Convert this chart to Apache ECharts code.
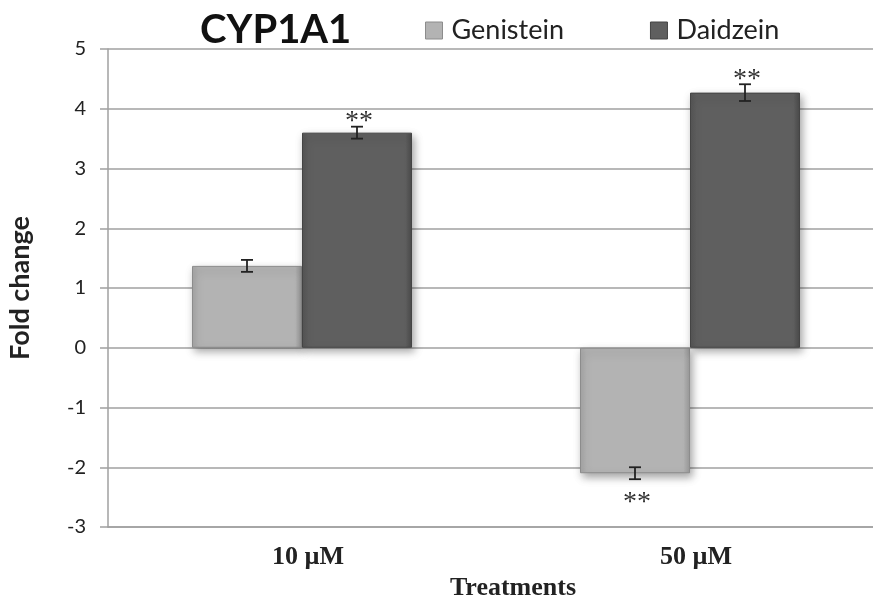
<!DOCTYPE html>
<html>
<head>
<meta charset="utf-8">
<script src="https://cdn.jsdelivr.net/npm/echarts@6/dist/echarts.min.js"></script>
<style>html,body{margin:0;padding:0;background:#fff}#c{width:873px;height:599px}</style>
</head>
<body>
<div id="c"></div>
<script>
const categories = ['10 µM', '50 µM'];
const seriesNames = ['Genistein', 'Daidzein'];
const genistein = [1.37, -2.1];
const daidzein = [3.6, 4.27];
const genisteinErr = [0.1, 0.1];
const daidzeinErr = [0.1, 0.14];
const genisteinStars = ['', '**'];
const daidzeinStars = ['**', '**'];
const yMin = -3, yMax = 5, yStep = 1;

const BAR_W = 110;

function errSeries(name, values, errs, stars, offset) {
  return {
    type: 'custom',
    name: name + ' err',
    z: 5,
    data: values.map((v, i) => [i, v, errs[i]]),
    renderItem: function (params, api) {
      const i = api.value(0), v = api.value(1), e = api.value(2);
      const top = api.coord([i, v + e]);
      const bot = api.coord([i, v - e]);
      const x = top[0] + offset;
      const cap = 6;
      const st = { stroke: '#222', lineWidth: 1.8 };
      const children = [
        { type: 'line', shape: { x1: x, y1: top[1], x2: x, y2: bot[1] }, style: st },
        { type: 'line', shape: { x1: x - cap, y1: top[1], x2: x + cap, y2: top[1] }, style: st },
        { type: 'line', shape: { x1: x - cap, y1: bot[1], x2: x + cap, y2: bot[1] }, style: st }
      ];
      const s = stars[params.dataIndex];
      if (s) {
        const y = v >= 0 ? top[1] - 5 : bot[1] + 23;
        children.push({
          type: 'text',
          style: { text: s, x: x + 2, y: y, fill: '#333', font: '28px "Liberation Serif"', align: 'center', verticalAlign: 'middle' }
        });
      }
      return { type: 'group', children: children };
    }
  };
}

const chart = echarts.init(document.getElementById('c'), null, { renderer: 'canvas' });
chart.setOption({
  animation: false,
  backgroundColor: '#fff',
  title: {
    text: 'CYP1A1', left: 195, top: 5,
    textStyle: { fontFamily: 'Lato', fontWeight: 'bold', fontSize: 40, color: '#111' }
  },
  legend: {
    data: seriesNames,
    left: 420, top: 12,
    itemWidth: 17, itemHeight: 17, itemGap: 86, icon: 'rect',
    textStyle: { fontFamily: 'Lato', fontSize: 27, color: '#222', padding: [0, 0, 0, 4] },
    itemStyle: { shadowBlur: 0, shadowOffsetX: 0, shadowOffsetY: 0, borderWidth: 1 }
  },
  grid: { left: 108, width: 776, top: 49, bottom: 72, outerBoundsMode: 'none', containLabel: false },
  xAxis: {
    type: 'category',
    data: categories,
    axisLine: { onZero: false, lineStyle: { color: '#a0a0a0', width: 1.5 } },
    axisTick: { show: false },
    axisLabel: { margin: 17, fontFamily: 'Liberation Serif', fontWeight: 'bold', fontSize: 26, color: '#222', padding: [0, 0, 0, 12] },
    name: 'Treatments', nameLocation: 'middle', nameGap: 46,
    nameTextStyle: { fontFamily: 'Liberation Serif', fontWeight: 'bold', fontSize: 26, color: '#222', padding: [0, 0, 0, 34] }
  },
  yAxis: {
    type: 'value', min: yMin, max: yMax, interval: yStep,
    axisLine: { show: true, lineStyle: { color: '#a0a0a0', width: 1.5 } },
    axisTick: { show: true, length: 8, lineStyle: { color: '#a0a0a0', width: 1.5 } },
    splitLine: { lineStyle: { color: '#a0a0a0', width: 1.5 } },
    axisLabel: { margin: 22, fontFamily: 'Lato', fontSize: 20, color: '#222' },
    name: 'Fold change', nameLocation: 'middle', nameGap: 74, nameRotate: 90,
    nameTextStyle: { fontFamily: 'Lato', fontWeight: 'bold', fontSize: 27, color: '#222' }
  },
  series: [
    {
      type: 'bar', name: seriesNames[0], data: genistein,
      barWidth: BAR_W, barGap: '0%',
      itemStyle: {
        color: new echarts.graphic.LinearGradient(0, 0, 1, 0, [
          { offset: 0, color: '#a6a6a6' }, { offset: 0.06, color: '#b3b3b3' },
          { offset: 0.94, color: '#b3b3b3' }, { offset: 1, color: '#9a9a9a' }
        ]),
        borderColor: '#8c8c8c', borderWidth: 1,
        shadowBlur: 8, shadowOffsetX: 2, shadowOffsetY: 4, shadowColor: 'rgba(0,0,0,0.35)'
      }
    },
    {
      type: 'bar', name: seriesNames[1], data: daidzein,
      barWidth: BAR_W, barGap: '0%',
      itemStyle: {
        color: new echarts.graphic.LinearGradient(0, 0, 1, 0, [
          { offset: 0, color: '#555' }, { offset: 0.06, color: '#5f5f5f' },
          { offset: 0.94, color: '#5f5f5f' }, { offset: 1, color: '#4a4a4a' }
        ]),
        borderColor: '#444', borderWidth: 1,
        shadowBlur: 8, shadowOffsetX: 2, shadowOffsetY: 4, shadowColor: 'rgba(0,0,0,0.35)'
      }
    },
    errSeries(seriesNames[0], genistein, genisteinErr, genisteinStars, -BAR_W / 2),
    errSeries(seriesNames[1], daidzein, daidzeinErr, daidzeinStars, BAR_W / 2)
  ]
});
</script>
</body>
</html>
